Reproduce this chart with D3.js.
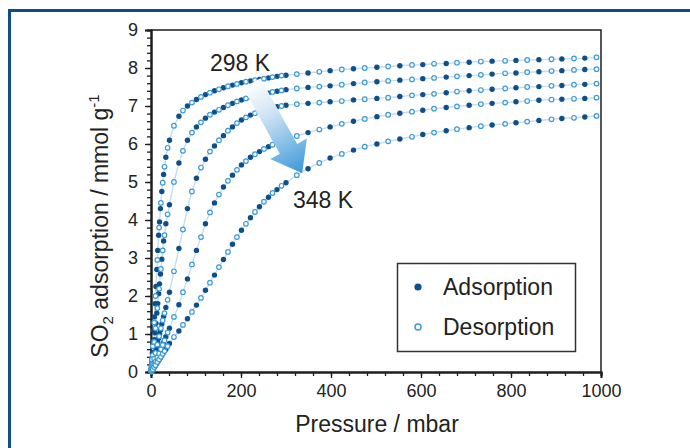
<!DOCTYPE html>
<html>
<head>
<meta charset="utf-8">
<script src="https://cdn.jsdelivr.net/npm/d3@7"></script>
<style>
body { margin: 0; background: #fff; }
svg { display: block; font-family: "Liberation Sans", Arial, Helvetica, sans-serif; }
</style>
</head>
<body>
<svg id="chart" width="690" height="448"></svg>
<script>

// pressure grids (mbar), shared by all temperatures
var pressureAds = [0.5, 1.5, 3, 4.5, 6, 7.5, 9, 11, 13, 15, 17, 19, 21, 24, 28, 33, 41, 62, 81, 101, 121, 141, 161, 181, 201, 221, 241, 261, 280, 300, 349, 398, 450, 502, 553, 604, 656, 707, 758, 811, 862, 913, 964];
var pressureDes = [0.8, 2, 4, 7, 10, 14, 18, 22, 26, 30, 37, 51, 71, 91, 111, 131, 151, 171, 191, 211, 231, 251, 270, 290, 324, 374, 424, 475, 527, 580, 629, 680, 733, 787, 836, 890, 940, 990];

// SO2 uptake (mmol/g), one array per isotherm
var ads1 = [0.08, 0.25, 0.5, 0.8, 1.1, 1.45, 1.8, 2.25, 2.7, 3.2, 3.6, 3.95, 4.3, 4.75, 5.2, 5.65, 6.1, 6.73, 7.0, 7.17, 7.3, 7.4, 7.48, 7.55, 7.61, 7.66, 7.7, 7.74, 7.78, 7.81, 7.87, 7.93, 7.98, 8.02, 8.06, 8.09, 8.12, 8.15, 8.18, 8.2, 8.22, 8.24, 8.26];
var ads2 = [0.05, 0.16, 0.33, 0.5, 0.67, 0.85, 1.03, 1.28, 1.55, 1.8, 2.06, 2.32, 2.58, 2.97, 3.45, 3.9, 4.4, 5.5, 6.1, 6.45, 6.68, 6.84, 6.96, 7.07, 7.16, 7.23, 7.29, 7.34, 7.39, 7.43, 7.49, 7.53, 7.59, 7.64, 7.68, 7.72, 7.76, 7.8, 7.84, 7.87, 7.9, 7.93, 7.96];
var ads3 = [0.03, 0.08, 0.15, 0.23, 0.3, 0.38, 0.45, 0.56, 0.67, 0.78, 0.89, 1.0, 1.1, 1.26, 1.46, 1.7, 2.1, 3.25, 4.3, 5.1, 5.6, 5.95, 6.22, 6.45, 6.63, 6.76, 6.86, 6.93, 6.98, 7.02, 7.07, 7.11, 7.16, 7.2, 7.25, 7.3, 7.35, 7.4, 7.44, 7.48, 7.51, 7.54, 7.57];
var ads4 = [0.01, 0.04, 0.08, 0.12, 0.16, 0.2, 0.24, 0.3, 0.35, 0.41, 0.46, 0.52, 0.57, 0.66, 0.78, 0.93, 1.15, 1.77, 2.45, 3.2, 3.9, 4.45, 4.87, 5.18, 5.45, 5.65, 5.8, 5.93, 6.03, 6.12, 6.3, 6.45, 6.6, 6.72, 6.81, 6.89, 6.96, 7.02, 7.07, 7.11, 7.15, 7.18, 7.2];
var ads5 = [0.01, 0.03, 0.05, 0.08, 0.11, 0.14, 0.16, 0.2, 0.24, 0.27, 0.31, 0.34, 0.38, 0.44, 0.51, 0.6, 0.75, 1.08, 1.4, 1.76, 2.15, 2.55, 2.96, 3.36, 3.73, 4.06, 4.35, 4.6, 4.8, 4.98, 5.35, 5.63, 5.84, 6.0, 6.13, 6.25, 6.35, 6.43, 6.5, 6.56, 6.62, 6.67, 6.71];

var des1 = [0.13, 0.33, 0.68, 1.3, 2.0, 2.95, 3.8, 4.45, 4.98, 5.4, 5.9, 6.48, 6.88, 7.09, 7.24, 7.35, 7.44, 7.52, 7.58, 7.64, 7.68, 7.72, 7.76, 7.8, 7.84, 7.9, 7.96, 8.0, 8.04, 8.08, 8.11, 8.14, 8.17, 8.19, 8.21, 8.23, 8.25, 8.28];
var des2 = [0.08, 0.22, 0.44, 0.79, 1.15, 1.68, 2.19, 2.71, 3.2, 3.6, 4.15, 5.0, 5.82, 6.3, 6.57, 6.77, 6.9, 7.02, 7.12, 7.2, 7.26, 7.32, 7.37, 7.41, 7.46, 7.51, 7.56, 7.62, 7.66, 7.7, 7.74, 7.78, 7.82, 7.86, 7.89, 7.92, 7.95, 7.97];
var des3 = [0.04, 0.1, 0.2, 0.35, 0.5, 0.72, 0.94, 1.15, 1.36, 1.55, 1.9, 2.65, 3.75, 4.75, 5.38, 5.8, 6.1, 6.35, 6.55, 6.7, 6.81, 6.9, 6.96, 7.0, 7.05, 7.09, 7.13, 7.18, 7.22, 7.28, 7.32, 7.38, 7.42, 7.46, 7.5, 7.53, 7.56, 7.59];
var des4 = [0.02, 0.05, 0.11, 0.19, 0.27, 0.38, 0.49, 0.6, 0.71, 0.83, 1.04, 1.45, 2.1, 2.83, 3.55, 4.2, 4.67, 5.03, 5.32, 5.55, 5.73, 5.87, 5.98, 6.08, 6.21, 6.38, 6.53, 6.66, 6.77, 6.85, 6.93, 6.99, 7.05, 7.09, 7.13, 7.17, 7.19, 7.22];
var des5 = [0.01, 0.04, 0.07, 0.13, 0.18, 0.26, 0.33, 0.4, 0.48, 0.55, 0.68, 0.92, 1.24, 1.58, 1.95, 2.35, 2.76, 3.16, 3.55, 3.9, 4.21, 4.48, 4.71, 4.9, 5.18, 5.5, 5.74, 5.93, 6.07, 6.19, 6.3, 6.39, 6.47, 6.53, 6.59, 6.65, 6.69, 6.74];

var adsSeries = [ads1, ads2, ads3, ads4, ads5];
var desSeries = [des1, des2, des3, des4, des5];

var xTicks = [0, 200, 400, 600, 800, 1000];
var yTicks = [0, 1, 2, 3, 4, 5, 6, 7, 8, 9];
var legendLabels = ["Adsorption", "Desorption"];
var tempLabels = ["298 K", "348 K"];

var svg = d3.select('#chart');

var x = d3.scaleLinear().domain([0, 1000]).range([151, 601]);
var y = d3.scaleLinear().domain([0, 9]).range([372, 30]);

var dark = '#0d4f8b',
    light = '#3b9ad9',
    ink = '#1e1e1e';

// outer blue frame
svg.append('rect')
  .attr('x', 9.5).attr('y', 10.5)
  .attr('width', 700).attr('height', 460)
  .attr('fill', 'none')
  .attr('stroke', '#0f4d8a')
  .attr('stroke-width', 3);

// plot box (top & right)
svg.append('path')
  .attr('d', 'M' + x(0) + ',' + y(9) + 'H' + x(1000) + 'V' + y(0))
  .attr('fill', 'none')
  .attr('stroke', ink)
  .attr('stroke-width', 1.5);

// axes
var xMinor = svg.append('g')
  .attr('transform', 'translate(0,' + y(0) + ')')
  .call(d3.axisBottom(x).tickValues(d3.range(0, 1001, 40)).tickSize(4).tickFormat(''));
var xMajor = svg.append('g')
  .attr('transform', 'translate(0,' + y(0) + ')')
  .call(d3.axisBottom(x).tickValues(xTicks).tickSize(6).tickPadding(6).tickFormat(d3.format('d')));

var yMinor = svg.append('g')
  .attr('transform', 'translate(' + x(0) + ',0)')
  .call(d3.axisLeft(y).tickValues(d3.range(0, 45).map(function(i) { return i * 0.2; })).tickSize(4).tickFormat(''));
var yMajor = svg.append('g')
  .attr('transform', 'translate(' + x(0) + ',0)')
  .call(d3.axisLeft(y).tickValues(yTicks).tickSize(6).tickPadding(7).tickFormat(d3.format('d')));

[xMinor, xMajor, yMinor, yMajor].forEach(function(g) {
  g.selectAll('.domain').attr('stroke', ink).attr('stroke-width', 2);
  g.selectAll('.tick line').attr('stroke', ink).attr('stroke-width', 1.3);
  g.selectAll('.tick text').attr('fill', '#222').style('font-size', '18px')
    .style('font-family', '"Liberation Sans", Arial, sans-serif');
});

// axis titles
svg.append('text')
  .attr('x', (x(0) + x(1000)) / 2 + 1)
  .attr('y', 432)
  .attr('text-anchor', 'middle')
  .attr('fill', '#222')
  .style('font-size', '23px')
  .text('Pressure / mbar');

var yTitle = svg.append('text')
  .attr('transform', 'translate(108,' + 226 + ') rotate(-90)')
  .attr('text-anchor', 'middle')
  .attr('fill', '#222')
  .style('font-size', '23px');
yTitle.append('tspan').text('SO');
yTitle.append('tspan').attr('dy', 5).style('font-size', '15px').text('2');
yTitle.append('tspan').attr('dy', -5).text(' adsorption / mmol g');
yTitle.append('tspan').attr('dy', -9).style('font-size', '15px').text('-1');

// isotherms
var plot = svg.append('g');

var line = d3.line()
  .x(function(d) { return x(d[0]); })
  .y(function(d) { return y(d[1]); });

adsSeries.forEach(function(qs, i) {
  var adsPts = pressureAds.map(function(p, j) { return [p, qs[j]]; });
  var desPts = pressureDes.map(function(p, j) { return [p, desSeries[i][j]]; });
  var all = adsPts.concat(desPts).sort(function(a, b) { return a[0] - b[0]; });
  plot.append('path')
    .attr('d', line([[0, 0]].concat(all)))
    .attr('fill', 'none')
    .attr('stroke', '#c6dcf0')
    .attr('stroke-width', 1.4);
});

adsSeries.forEach(function(qs) {
  plot.append('g').selectAll('circle')
    .data(pressureAds.map(function(p, j) { return [p, qs[j]]; }))
    .enter().append('circle')
    .attr('cx', function(d) { return x(d[0]); })
    .attr('cy', function(d) { return y(d[1]); })
    .attr('r', 2.7)
    .attr('fill', dark);
});

desSeries.forEach(function(qs) {
  plot.append('g').selectAll('circle')
    .data(pressureDes.map(function(p, j) { return [p, qs[j]]; }))
    .enter().append('circle')
    .attr('cx', function(d) { return x(d[0]); })
    .attr('cy', function(d) { return y(d[1]); })
    .attr('r', 2.3)
    .attr('fill', '#fff')
    .attr('stroke', light)
    .attr('stroke-width', 1.2);
});

// temperature arrow
var arrowFrom = [224, 7.6], arrowTo = [336, 5.23];
var ax0 = x(arrowFrom[0]), ay0 = y(arrowFrom[1]),
    ax1 = x(arrowTo[0]), ay1 = y(arrowTo[1]);
var len = Math.hypot(ax1 - ax0, ay1 - ay0),
    ux = (ax1 - ax0) / len, uy = (ay1 - ay0) / len,
    nx = -uy, ny = ux;
var shaftW = 10, headW = 21, headL = 28;
var bx = ax1 - ux * headL, by = ay1 - uy * headL;
var arrowPts = [
  [ax0 + nx * shaftW, ay0 + ny * shaftW],
  [bx + nx * shaftW, by + ny * shaftW],
  [bx + nx * headW, by + ny * headW],
  [ax1, ay1],
  [bx - nx * headW, by - ny * headW],
  [bx - nx * shaftW, by - ny * shaftW],
  [ax0 - nx * shaftW, ay0 - ny * shaftW]
];

var grad = svg.append('defs').append('linearGradient')
  .attr('id', 'arrowGrad')
  .attr('gradientUnits', 'userSpaceOnUse')
  .attr('x1', ax0).attr('y1', ay0)
  .attr('x2', ax1).attr('y2', ay1);
grad.append('stop').attr('offset', 0).attr('stop-color', '#ffffff');
grad.append('stop').attr('offset', 0.35).attr('stop-color', '#cfe3f4');
grad.append('stop').attr('offset', 1).attr('stop-color', '#3a98d8');

svg.append('path')
  .attr('d', 'M' + arrowPts.join('L') + 'Z')
  .attr('fill', 'url(#arrowGrad)');

svg.append('text')
  .attr('x', 210).attr('y', 71)
  .attr('fill', '#222')
  .style('font-size', '23px')
  .text(tempLabels[0]);
svg.append('text')
  .attr('x', 293).attr('y', 208)
  .attr('fill', '#222')
  .style('font-size', '23px')
  .text(tempLabels[1]);

// legend
svg.append('rect')
  .attr('x', 397.5).attr('y', 263.5)
  .attr('width', 178).attr('height', 88)
  .attr('fill', '#fff')
  .attr('stroke', '#333')
  .attr('stroke-width', 1.5);

var legend = svg.append('g').selectAll('g')
  .data(legendLabels)
  .enter().append('g')
  .attr('transform', function(d, i) { return 'translate(418,' + (287 + i * 40) + ')'; });

legend.append('circle')
  .attr('r', function(d, i) { return i === 0 ? 3.6 : 3; })
  .attr('fill', function(d, i) { return i === 0 ? dark : '#fff'; })
  .attr('stroke', function(d, i) { return i === 0 ? 'none' : light; })
  .attr('stroke-width', 1.5);

legend.append('text')
  .attr('x', 25).attr('y', 8)
  .attr('fill', '#222')
  .style('font-size', '23px')
  .text(function(d) { return d; });

</script>
</body>
</html>
